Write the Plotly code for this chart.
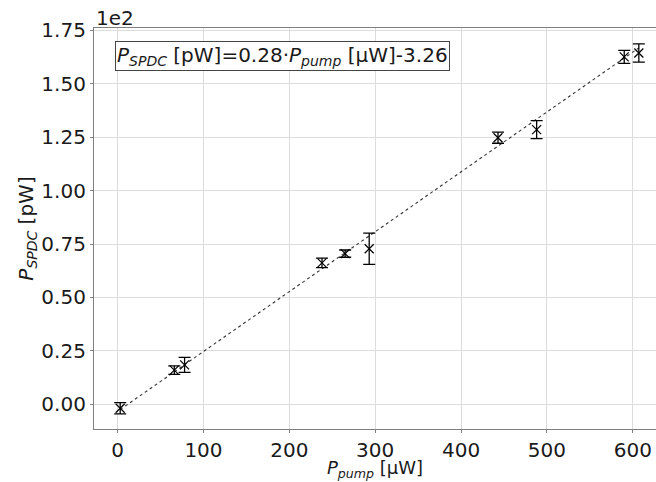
import plotly.graph_objects as go

# Data (values in pW; axis shown in units of 1e2)
p_pump = [3, 66, 78, 238, 265, 293, 443, 488, 590, 607]
p_spdc = [-1.8, 16.0, 18.5, 66.2, 70.5, 72.8, 124.7, 128.5, 162.5, 164.3]
p_err = [2.6, 2.0, 3.5, 2.2, 1.7, 7.3, 2.6, 4.2, 3.0, 4.3]

fit_slope = 0.28
fit_offset = -3.26
fit_x = [min(p_pump), max(p_pump)]
fit_y = [fit_slope * v + fit_offset for v in fit_x]

x_ticks = [0, 100, 200, 300, 400, 500, 600]
y_ticks = [0, 25, 50, 75, 100, 125, 150, 175]
y_ticktext = ["0.00", "0.25", "0.50", "0.75", "1.00", "1.25", "1.50", "1.75"]

FONT = "DejaVu Sans"
TXT = "#1a1a1a"

fig = go.Figure()
fig.add_trace(go.Scatter(
    x=fit_x, y=fit_y, mode="lines",
    line=dict(color="#333333", width=1.1, dash="dot"),
    showlegend=False, hoverinfo="skip",
))
fig.add_trace(go.Scatter(
    x=p_pump, y=p_spdc, mode="markers",
    marker=dict(symbol="x-thin-open", size=9, color="black",
                line=dict(color="black", width=1.2)),
    error_y=dict(type="data", array=p_err, visible=True,
                 color="black", thickness=1.3, width=6),
    showlegend=False,
))

axis_common = dict(
    showgrid=True, gridcolor="#dcdcdc", gridwidth=1,
    showline=True, linecolor="#808080", linewidth=1.2, mirror=True,
    ticks="outside", ticklen=3, tickcolor="#808080",
    zeroline=False,
    tickfont=dict(family=FONT, size=20, color=TXT),
)

fig.update_xaxes(range=[-27.5, 627], tickvals=x_ticks, **axis_common)
fig.update_yaxes(
    range=[-11.5, 176], tickvals=y_ticks, ticktext=y_ticktext,
    title=dict(text="<i>P</i><sub><i>SPDC</i></sub> [pW]",
               font=dict(family=FONT, size=20, color=TXT), standoff=2),
    **axis_common,
)

# x-axis title placed explicitly just under the tick labels
fig.add_annotation(
    xref="paper", yref="paper", x=0.5, y=0, xanchor="center", yanchor="top",
    text="<i>P</i><sub><i>pump</i></sub> [µW]", showarrow=False,
    font=dict(family=FONT, size=18, color=TXT), yshift=-26,
)
fig.add_annotation(
    xref="paper", yref="paper", x=0.0, y=1.0, xanchor="left", yanchor="bottom",
    text="1e2", showarrow=False, font=dict(family=FONT, size=20, color=TXT),
    yshift=-4,
)
fig.add_annotation(
    xref="paper", yref="paper", x=(115 - 94) / 562, y=1 - (41.5 - 28.5) / 400.5,
    xanchor="left", yanchor="top",
    text="<i>P</i><sub><i>SPDC</i></sub> [pW]=0.28·<i>P</i><sub><i>pump</i></sub> [µW]-3.26",
    showarrow=False, font=dict(family=FONT, size=20, color=TXT),
    bordercolor="#444", borderwidth=1, borderpad=1, bgcolor="white",
)

fig.update_layout(
    width=656, height=482,
    margin=dict(l=94, r=0, t=28, b=53),
    plot_bgcolor="white", paper_bgcolor="white",
    font=dict(family=FONT),
)

fig.write_html("out.html",
               config={"displayModeBar": False},
               post_script="document.body.style.margin='0';document.body.style.overflow='hidden';")
